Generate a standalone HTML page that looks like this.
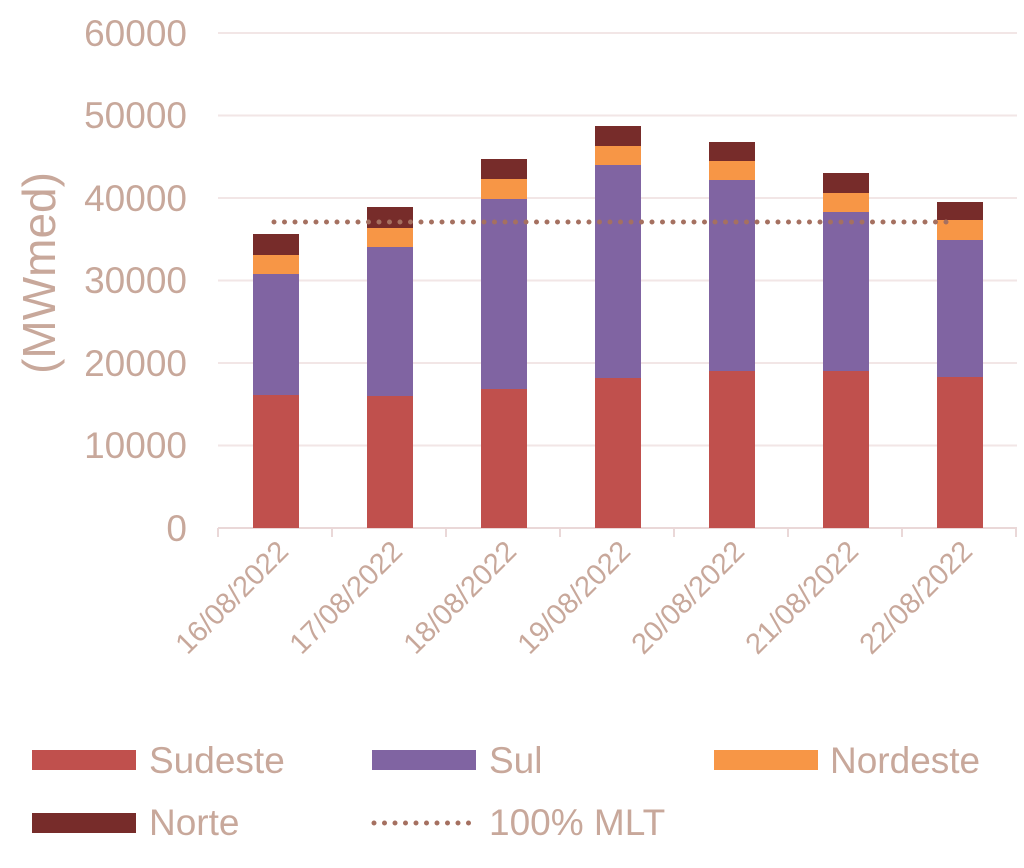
<!DOCTYPE html>
<html><head><style>body{margin:0;background:#fff}</style></head><body>
<svg width="1024" height="863" xmlns="http://www.w3.org/2000/svg" font-family="Liberation Sans, sans-serif">
<g stroke="#f2e6e6" stroke-width="2">
<line x1="218" x2="1017" y1="33" y2="33"/><line x1="218" x2="1017" y1="115.5" y2="115.5"/><line x1="218" x2="1017" y1="198" y2="198"/><line x1="218" x2="1017" y1="280.5" y2="280.5"/><line x1="218" x2="1017" y1="363" y2="363"/><line x1="218" x2="1017" y1="445.5" y2="445.5"/>
</g>
<g stroke="#ead8d8" stroke-width="2">
<line x1="218" x2="1017" y1="528" y2="528"/>
<line x1="218" x2="218" y1="528" y2="537"/><line x1="332" x2="332" y1="528" y2="537"/><line x1="446" x2="446" y1="528" y2="537"/><line x1="560" x2="560" y1="528" y2="537"/><line x1="674" x2="674" y1="528" y2="537"/><line x1="788" x2="788" y1="528" y2="537"/><line x1="902" x2="902" y1="528" y2="537"/><line x1="1016" x2="1016" y1="528" y2="537"/>
</g>
<g fill="#c8a89b" font-size="37" text-anchor="end">
<text x="187" y="46">60000</text><text x="187" y="128">50000</text><text x="187" y="211">40000</text><text x="187" y="293">30000</text><text x="187" y="376">20000</text><text x="187" y="458">10000</text><text x="187" y="541">0</text>
</g>
<text transform="translate(55,273) rotate(-90)" fill="#c8a89b" font-size="46" text-anchor="middle">(MWmed)</text>
<g>
<rect x="253" y="395" width="46" height="133" fill="#c0504d"/><rect x="253" y="274" width="46" height="121" fill="#8064a2"/><rect x="253" y="255" width="46" height="19" fill="#f79646"/><rect x="253" y="234" width="46" height="21" fill="#772c2a"/>
<rect x="367" y="396" width="46" height="132" fill="#c0504d"/><rect x="367" y="247" width="46" height="149" fill="#8064a2"/><rect x="367" y="228" width="46" height="19" fill="#f79646"/><rect x="367" y="207" width="46" height="21" fill="#772c2a"/>
<rect x="481" y="389" width="46" height="139" fill="#c0504d"/><rect x="481" y="199" width="46" height="190" fill="#8064a2"/><rect x="481" y="179" width="46" height="20" fill="#f79646"/><rect x="481" y="159" width="46" height="20" fill="#772c2a"/>
<rect x="595" y="378" width="46" height="150" fill="#c0504d"/><rect x="595" y="165" width="46" height="213" fill="#8064a2"/><rect x="595" y="146" width="46" height="19" fill="#f79646"/><rect x="595" y="126" width="46" height="20" fill="#772c2a"/>
<rect x="709" y="371" width="46" height="157" fill="#c0504d"/><rect x="709" y="180" width="46" height="191" fill="#8064a2"/><rect x="709" y="161" width="46" height="19" fill="#f79646"/><rect x="709" y="142" width="46" height="19" fill="#772c2a"/>
<rect x="823" y="371" width="46" height="157" fill="#c0504d"/><rect x="823" y="212" width="46" height="159" fill="#8064a2"/><rect x="823" y="193" width="46" height="19" fill="#f79646"/><rect x="823" y="173" width="46" height="20" fill="#772c2a"/>
<rect x="937" y="377" width="46" height="151" fill="#c0504d"/><rect x="937" y="240" width="46" height="137" fill="#8064a2"/><rect x="937" y="220" width="46" height="20" fill="#f79646"/><rect x="937" y="202" width="46" height="18" fill="#772c2a"/>
</g>
<line x1="274" x2="950" y1="222" y2="222" stroke="#a57060" stroke-width="5" stroke-dasharray="0 10.5" stroke-linecap="round"/>
<g fill="#c8a89b" font-size="29" text-anchor="end">
<text transform="translate(290,553) rotate(-45)">16/08/2022</text>
<text transform="translate(404,553) rotate(-45)">17/08/2022</text>
<text transform="translate(518,553) rotate(-45)">18/08/2022</text>
<text transform="translate(632,553) rotate(-45)">19/08/2022</text>
<text transform="translate(746,553) rotate(-45)">20/08/2022</text>
<text transform="translate(860,553) rotate(-45)">21/08/2022</text>
<text transform="translate(974,553) rotate(-45)">22/08/2022</text>
</g>
<g font-size="37" fill="#c8a89b">
<rect x="32" y="750" width="104" height="20" fill="#c0504d"/><text x="149" y="773">Sudeste</text>
<rect x="372" y="750" width="104" height="20" fill="#8064a2"/><text x="489" y="773">Sul</text>
<rect x="714" y="750" width="104" height="20" fill="#f79646"/><text x="830" y="773">Nordeste</text>
<rect x="32" y="813" width="104" height="20" fill="#772c2a"/><text x="149" y="835">Norte</text>
<line x1="374" x2="476" y1="823" y2="823" stroke="#a57060" stroke-width="5" stroke-dasharray="0 10.5" stroke-linecap="round"/><text x="489" y="835">100% MLT</text>
</g>
</svg>
</body></html>
